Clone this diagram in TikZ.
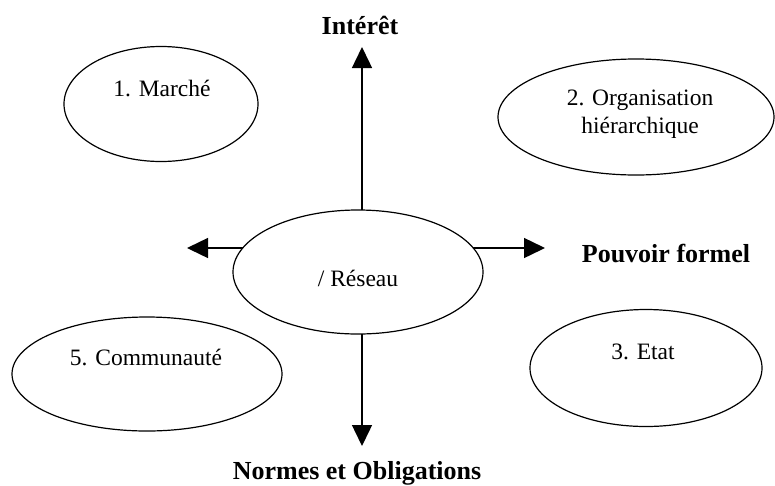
\documentclass[tikz,border=0pt]{standalone}
\usepackage{fontspec}
\setmainfont{Liberation Serif}
\usetikzlibrary{shapes.geometric,arrows.meta,backgrounds}
\begin{document}
\begin{tikzpicture}[x=1pt,y=-1pt,
  zone/.style={draw, ellipse, line width=1.2pt, fill=white, inner sep=0pt},
  lbl/.style={font=\fontsize{23.5}{28}\selectfont, align=center, inner sep=0pt},
  axislbl/.style={font=\bfseries\fontsize{26}{30}\selectfont, inner sep=0pt},
  arr/.style={line width=1.4pt, -{Triangle[length=21pt,width=20pt]}}]
\useasboundingbox (0,0) rectangle (775,485);

% the five forms of coordination
\node[zone, minimum width=194pt, minimum height=115pt] (march) at (161,104) {};
\node[zone, minimum width=276pt, minimum height=116pt] (org)   at (636,117) {};
\node[zone, minimum width=250pt, minimum height=124pt] (res)   at (358,272) {};
\node[zone, minimum width=232pt, minimum height=117pt] (etat)  at (646,368) {};
\node[zone, minimum width=270pt, minimum height=114pt] (comm)  at (147,374) {};

\node[lbl] (marchT) at (162,88)  {1. Marché};
\node[lbl] (orgT)   at (640,114) {2. Organisation\\hiérarchique};
\node[lbl] (resT)   at (358,278) {/ Réseau};
\node[lbl] (etatT)  at (643,352) {3. Etat};
\node[lbl] (commT)  at (146,357) {5. Communauté};

% axis ends
\coordinate (up)    at (362,47);
\coordinate (down)  at (362,446);
\coordinate (left)  at (187,248);
\coordinate (right) at (545,248);

\node[axislbl] (interet) at (360,25)  {Intérêt};
\node[axislbl] (pouvoir) at (666,253) {Pouvoir formel};
\node[axislbl] (normes)  at (357,473) {Normes et Obligations};

% axes, drawn behind the central ellipse
\begin{pgfonlayer}{background}
  \draw[arr] (res.center -| up)    -- (up);
  \draw[arr] (res.center -| down)  -- (down);
  \draw[arr] (res.center |- left)  -- (left);
  \draw[arr] (res.center |- right) -- (right);
\end{pgfonlayer}
\end{tikzpicture}
\end{document}
